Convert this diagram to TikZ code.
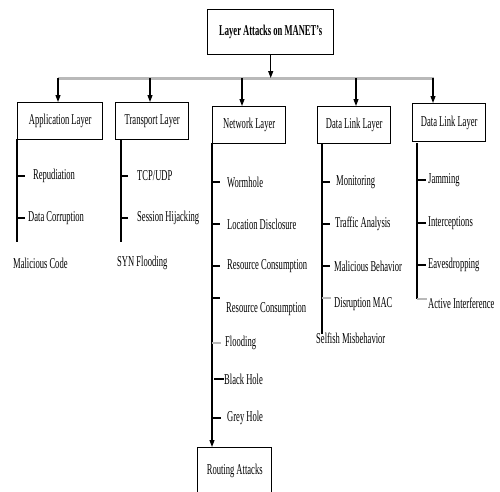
\documentclass[tikz,border=0pt]{standalone}
\usepackage{fontspec}
\setmainfont[FakeStretch=0.57]{Liberation Serif}
\usetikzlibrary{arrows.meta}
\begin{document}
\begin{tikzpicture}[x=1pt,y=-1pt,
  box/.style={draw, line width=1.4pt, anchor=north west, inner sep=0pt, align=center, font=\fontsize{15}{17}\selectfont},
  item/.style={anchor=west, inner sep=0pt, font=\fontsize{15}{17}\selectfont},
  stem/.style={line width=1.1pt},
  tick/.style={line width=1.1pt},
  gtick/.style={line width=1.3pt, gray!55},
  arr/.style={line width=1.1pt, -{Triangle[length=7pt,width=5pt]}},
  bar/.style={line width=3pt, gray!55}]
\useasboundingbox (0,0) rectangle (500,491);

% top
\node[box, minimum width=126pt, minimum height=45pt, font=\fontsize{15}{17}\selectfont\bfseries] (top) at (207,9) {Layer Attacks on MANET's};
\coordinate (bl) at (58,78);
\coordinate (br) at (434,78);
\draw[bar] (bl) -- (br);
\draw[arr] (top.south) -- (top.south |- bl);

% layer boxes
\node[box, minimum width=85pt, minimum height=37pt] (app) at (17,102) {Application Layer};
\node[box, minimum width=73pt, minimum height=37pt] (tra) at (115,102) {Transport Layer};
\node[box, minimum width=73pt, minimum height=37pt] (net) at (212,106) {Network Layer};
\node[box, minimum width=73pt, minimum height=37pt] (dla) at (317,106) {Data Link Layer};
\node[box, minimum width=73pt, minimum height=38pt] (dlb) at (412,103) {Data Link Layer};

\coordinate (dA) at (58,78);
\coordinate (dT) at (150,78);
\coordinate (dN) at (242,78);
\coordinate (dL) at (356,78);
\coordinate (dM) at (433,78);
\draw[arr] (dA) -- (dA |- app.north);
\draw[arr] (dT) -- (dT |- tra.north);
\draw[arr] (dN) -- (dN |- net.north);
\draw[arr] (dL) -- (dL |- dla.north);
\draw[arr] (dM) -- (dM |- dlb.north);

% application
\coordinate (aTop) at (17,139);
\coordinate (aEnd) at (17,242);
\draw[stem] (aTop) -- (aEnd);
\node[item] (rep) at (33,176) {Repudiation};
\node[item] (dcor) at (28,218) {Data Corruption};
\node[item] (mal) at (13,263) {Malicious Code};
\draw[tick] (rep.west -| aEnd) -- ++(8,0);
\draw[tick] (dcor.west -| aEnd) -- ++(8,0);

% transport
\coordinate (tTop) at (121,139);
\coordinate (tEnd) at (121,242);
\draw[stem] (tTop) -- (tEnd);
\node[item] (tcp) at (137,176) {TCP/UDP};
\node[item] (ses) at (137,218) {Session Hijacking};
\node[item] (syn) at (117,263) {SYN Flooding};
\draw[tick] (tcp.west -| tEnd) -- ++(7,0);
\draw[tick] (ses.west -| tEnd) -- ++(7,0);

% network
\node[box, minimum width=74pt, minimum height=46pt] (rout) at (197,447) {Routing Attacks};
\coordinate (nTop) at (212,143);
\draw[arr] (nTop) -- (nTop |- rout.north);
\node[item] (worm) at (227,182) {Wormhole};
\node[item] (loc) at (227,224) {Location Disclosure};
\node[item] (res1) at (227,266) {Resource Consumption};
\node[item] (res2) at (226,309) {Resource Consumption};
\node[item] (flo) at (225,343) {Flooding};
\node[item] (blk) at (224,379) {Black Hole};
\node[item] (gry) at (227,418) {Grey Hole};
\coordinate (r2t) at (212,298);
\draw[tick] (worm.west -| nTop) -- ++(8,0);
\draw[tick] (loc.west -| nTop) -- ++(8,0);
\draw[tick] (res1.west -| nTop) -- ++(8,0);
\draw[tick] (r2t) -- ++(8,0);
\draw[gtick] (flo.west -| nTop) -- ++(9,0);
\draw[tick] ([xshift=2pt]blk.west -| nTop) -- (blk.west);
\draw[tick] (gry.west -| nTop) -- ++(9,0);

% data link 1
\coordinate (lTop) at (322,143);
\coordinate (lEnd) at (322,334);
\draw[stem] (lTop) -- (lEnd);
\node[item] (mon) at (336,182) {Monitoring};
\node[item] (tra2) at (335,224) {Traffic Analysis};
\node[item] (mbh) at (334,266) {Malicious Behavior};
\node[item] (dis) at (334,304) {Disruption MAC};
\node[item] (sel) at (316,338) {Selfish Misbehavior};
\coordinate (dist) at (322,298);
\draw[tick] (mon.west -| lTop) -- ++(8,0);
\draw[tick] (tra2.west -| lTop) -- ++(8,0);
\draw[tick] (mbh.west -| lTop) -- ++(8,0);
\draw[gtick] (dist) -- ++(9,0);

% data link 2
\coordinate (mTop) at (417,143);
\coordinate (mEnd) at (417,299);
\draw[stem] (mTop) -- (mEnd);
\node[item] (jam) at (428,180) {Jamming};
\node[item] (int) at (428,223) {Interceptions};
\node[item] (eav) at (428,265) {Eavesdropping};
\node[item] (act) at (428,303) {Active Interference};
\draw[tick] (jam.west -| mTop) -- ++(9,0);
\draw[tick] (int.west -| mTop) -- ++(9,0);
\draw[tick] (eav.west -| mTop) -- ++(9,0);
\draw[gtick] (mEnd) -- ++(10,0);
\end{tikzpicture}
\end{document}
